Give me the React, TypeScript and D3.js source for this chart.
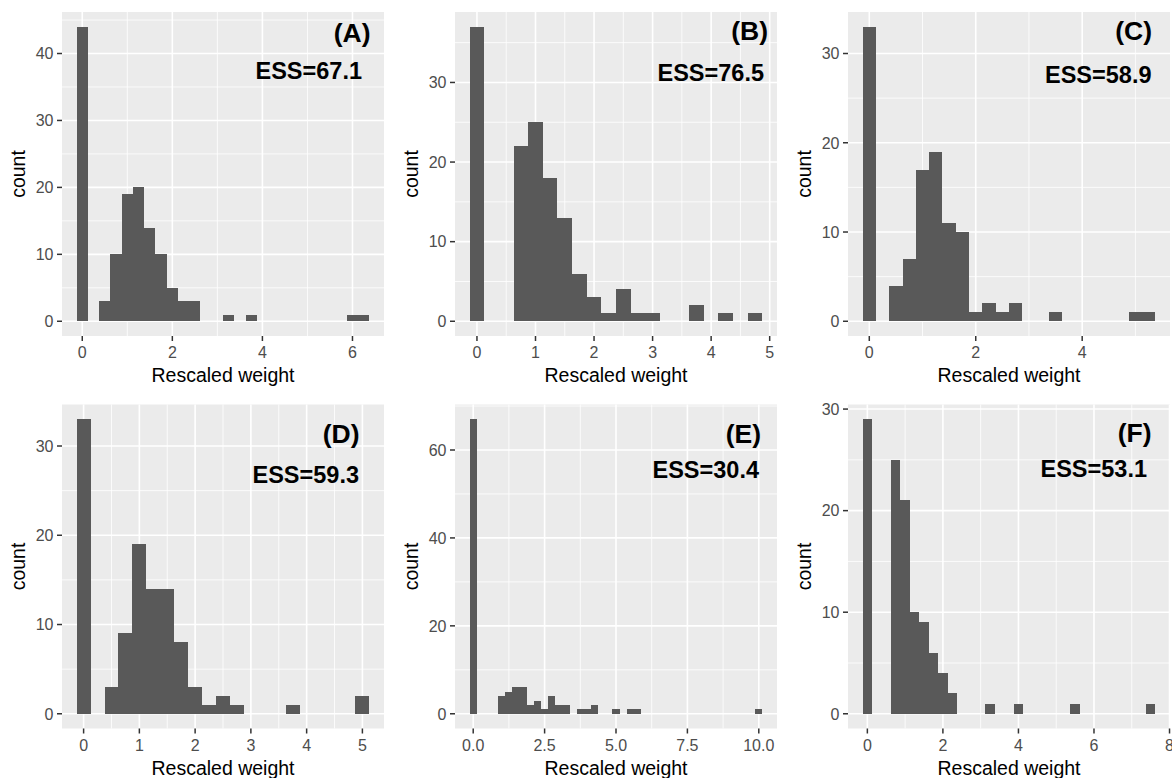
import * as d3 from "d3";

// ---- datos: histogramas con ancho de bin 0.25 (centros en múltiplos de 0.25) ----
const BIN_WIDTH = 0.25;

const panelLabels = ["(A)", "(B)", "(C)", "(D)", "(E)", "(F)"];
const essLabels = ["ESS=67.1", "ESS=76.5", "ESS=58.9", "ESS=59.3", "ESS=30.4", "ESS=53.1"];

const binsA = [0, 0.5, 0.75, 1, 1.25, 1.5, 1.75, 2, 2.25, 2.5, 3.25, 3.75, 6, 6.25];
const countsA = [44, 3, 10, 19, 20, 14, 10, 5, 3, 3, 1, 1, 1, 1];

const binsB = [0, 0.75, 1, 1.25, 1.5, 1.75, 2, 2.25, 2.5, 2.75, 3, 3.75, 4.25, 4.75];
const countsB = [37, 22, 25, 18, 13, 6, 3, 1, 4, 1, 1, 2, 1, 1];

const binsC = [0, 0.5, 0.75, 1, 1.25, 1.5, 1.75, 2, 2.25, 2.5, 2.75, 3.5, 5, 5.25];
const countsC = [33, 4, 7, 17, 19, 11, 10, 1, 2, 1, 2, 1, 1, 1];

const binsD = [0, 0.5, 0.75, 1, 1.25, 1.5, 1.75, 2, 2.25, 2.5, 2.75, 3.75, 5];
const countsD = [33, 3, 9, 19, 14, 14, 8, 3, 1, 2, 1, 1, 2];

const binsE = [0, 1, 1.25, 1.5, 1.75, 2, 2.25, 2.5, 2.75, 3, 3.25, 3.75, 4, 4.25, 5, 5.5, 5.75, 10];
const countsE = [67, 4, 5, 6, 6, 2, 3, 1, 4, 2, 2, 1, 1, 2, 1, 1, 1, 1];

const binsF = [0, 0.75, 1, 1.25, 1.5, 1.75, 2, 2.25, 3.25, 4, 5.5, 7.5];
const countsF = [29, 25, 21, 10, 9, 6, 4, 2, 1, 1, 1, 1];

const xTicksA = [0, 2, 4, 6];
const xTicksB = [0, 1, 2, 3, 4, 5];
const xTicksC = [0, 2, 4];
const xTicksD = [0, 1, 2, 3, 4, 5];
const xTicksE = [0, 2.5, 5, 7.5, 10];
const xTicksF = [0, 2, 4, 6, 8];
const xTickLabelsE = ["0.0", "2.5", "5.0", "7.5", "10.0"];

const yTicksA = [0, 10, 20, 30, 40];
const yTicksB = [0, 10, 20, 30];
const yTicksC = [0, 10, 20, 30];
const yTicksD = [0, 10, 20, 30];
const yTicksE = [0, 20, 40, 60];
const yTicksF = [0, 10, 20, 30];

const xTitle = "Rescaled weight";
const yTitle = "count";

// ---- layout ----
const WIDTH = 1172;
const HEIGHT = 778;
const PANEL_W = 322;
const PANEL_H = 324;
const colLefts = [62, 455, 848];
const rowTops = [12, 404.5];
// desplazamientos de las anotaciones (desde el borde derecho / superior del panel)
const annotOffsets = [
  { lx: -13.5, ly: 30, ex: -22, ey: 67 },
  { lx: -9, ly: 28, ex: -13, ey: 69 },
  { lx: -18, ly: 28, ex: -18.5, ey: 71 },
  { lx: -24.5, ly: 38.5, ex: -25, ey: 78 },
  { lx: -16, ly: 38.5, ex: -18, ey: 73.5 },
  { lx: -18.5, ly: 37, ex: -23, ey: 72 },
];

const FONT = "'Liberation Sans', Arial, Helvetica, sans-serif";
const BG = "#EBEBEB";
const BAR = "#595959";

type Panel = {
  bins: number[];
  counts: number[];
  xTicks: number[];
  yTicks: number[];
  xLabels?: string[];
};

const panels: Panel[] = [
  { bins: binsA, counts: countsA, xTicks: xTicksA, yTicks: yTicksA },
  { bins: binsB, counts: countsB, xTicks: xTicksB, yTicks: yTicksB },
  { bins: binsC, counts: countsC, xTicks: xTicksC, yTicks: yTicksC },
  { bins: binsD, counts: countsD, xTicks: xTicksD, yTicks: yTicksD },
  { bins: binsE, counts: countsE, xTicks: xTicksE, yTicks: yTicksE, xLabels: xTickLabelsE },
  { bins: binsF, counts: countsF, xTicks: xTicksF, yTicks: yTicksF },
];

// expansión 5% tipo ggplot
function expand([a, b]: [number, number]): [number, number] {
  const pad = (b - a) * 0.05;
  return [a - pad, b + pad];
}

// líneas menores: puntos medios entre cortes mayores dentro del dominio
function minorBreaks(ticks: number[], domain: [number, number]) {
  const step = ticks[1] - ticks[0];
  const out: number[] = [];
  for (let v = ticks[0] - step / 2; v <= domain[1]; v += step) {
    if (v >= domain[0]) out.push(v);
  }
  return out;
}

function HistPanel({ p, i }: { p: Panel; i: number }) {
  const left = colLefts[i % 3];
  const top = rowTops[Math.floor(i / 3)];
  const w = BIN_WIDTH;

  const xDomain = expand([
    (d3.min(p.bins) as number) - w / 2,
    (d3.max(p.bins) as number) + w / 2,
  ]);
  const yDomain = expand([0, d3.max(p.counts) as number]);

  const x = d3.scaleLinear().domain(xDomain).range([left, left + PANEL_W]);
  const y = d3.scaleLinear().domain(yDomain).range([top + PANEL_H, top]);

  const xMinor = minorBreaks(p.xTicks, xDomain);
  const yMinor = minorBreaks(p.yTicks, yDomain);
  const bottom = top + PANEL_H;
  const off = annotOffsets[i];

  return (
    <g>
      <rect x={left} y={top} width={PANEL_W} height={PANEL_H} fill={BG} />
      {/* grilla menor */}
      {xMinor.map((v) => (
        <line key={"xm" + v} x1={x(v)} x2={x(v)} y1={top} y2={bottom} stroke="#fff" strokeWidth={0.8} />
      ))}
      {yMinor.map((v) => (
        <line key={"ym" + v} x1={left} x2={left + PANEL_W} y1={y(v)} y2={y(v)} stroke="#fff" strokeWidth={0.8} />
      ))}
      {/* grilla mayor */}
      {p.xTicks.filter((v) => v <= xDomain[1]).map((v) => (
        <line key={"xM" + v} x1={x(v)} x2={x(v)} y1={top} y2={bottom} stroke="#fff" strokeWidth={1.6} />
      ))}
      {p.yTicks.map((v) => (
        <line key={"yM" + v} x1={left} x2={left + PANEL_W} y1={y(v)} y2={y(v)} stroke="#fff" strokeWidth={1.6} />
      ))}
      {/* barras */}
      <g shapeRendering="crispEdges">
        {p.bins.map((c, k) => (
          <rect
            key={"b" + k}
            x={x(c - w / 2)}
            width={x(c + w / 2) - x(c - w / 2)}
            y={y(p.counts[k])}
            height={y(0) - y(p.counts[k])}
            fill={BAR}
          />
        ))}
      </g>
      {/* eje Y */}
      {p.yTicks.map((v) => (
        <g key={"yt" + v}>
          <line x1={left - 5} x2={left} y1={y(v)} y2={y(v)} stroke="#333" strokeWidth={1.5} />
          <text
            x={left - 8.5}
            y={y(v)}
            dy="0.36em"
            textAnchor="end"
            fontSize={16}
            fill="#4D4D4D"
            fontFamily={FONT}
          >
            {v}
          </text>
        </g>
      ))}
      {/* eje X */}
      {p.xTicks.map((v, k) => (
        <g key={"xt" + v}>
          <line x1={x(v)} x2={x(v)} y1={bottom} y2={bottom + 5} stroke="#333" strokeWidth={1.5} />
          <text
            x={x(v)}
            y={bottom + 22}
            textAnchor="middle"
            fontSize={16}
            fill="#4D4D4D"
            fontFamily={FONT}
          >
            {p.xLabels ? p.xLabels[k] : String(v)}
          </text>
        </g>
      ))}
      <text
        x={left + PANEL_W / 2}
        y={bottom + 46}
        textAnchor="middle"
        fontSize={19.5}
        fill="#000"
        fontFamily={FONT}
      >
        {xTitle}
      </text>
      <text
        transform={`translate(${left - 37},${top + PANEL_H / 2}) rotate(-90)`}
        textAnchor="middle"
        fontSize={19.5}
        fill="#000"
        fontFamily={FONT}
      >
        {yTitle}
      </text>
      {/* anotaciones */}
      <text
        x={left + PANEL_W + off.lx}
        y={top + off.ly}
        textAnchor="end"
        fontSize={26.5}
        fontWeight="bold"
        fill="#000"
        fontFamily={FONT}
      >
        {panelLabels[i]}
      </text>
      <text
        x={left + PANEL_W + off.ex}
        y={top + off.ey}
        textAnchor="end"
        fontSize={23.5}
        fontWeight="bold"
        fill="#000"
        fontFamily={FONT}
      >
        {essLabels[i]}
      </text>
    </g>
  );
}

export default function App() {
  return (
    <div style={{ position: "absolute", left: 0, top: 0, width: WIDTH, height: HEIGHT, overflow: "hidden" }}>
      <svg width={WIDTH} height={HEIGHT} style={{ display: "block", background: "#fff" }}>
        {panels.map((p, i) => (
          <HistPanel key={i} p={p} i={i} />
        ))}
      </svg>
    </div>
  );
}
